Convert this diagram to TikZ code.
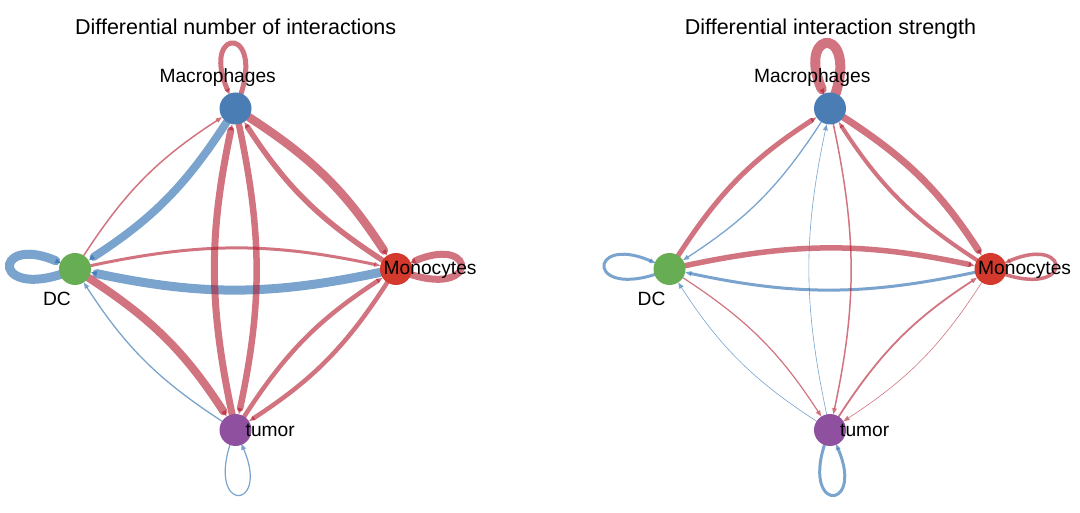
\documentclass[tikz,border=0pt]{standalone}
\usepackage{fontspec}
\setmainfont{Liberation Sans}
\usetikzlibrary{arrows.meta}
\definecolor{edgered}{HTML}{B2182B}
\definecolor{edgeblue}{HTML}{2166AC}
\definecolor{cM}{HTML}{4A7DB4}
\definecolor{cD}{HTML}{66AD53}
\definecolor{cMo}{HTML}{D3392C}
\definecolor{cT}{HTML}{8E509F}
\pgfdeclarelayer{edgelayer}
\pgfsetlayers{edgelayer,main}
\tikzset{
  cell/.style={circle, minimum size=32pt, inner sep=0pt, draw=none},
  lbl/.style={font=\fontsize{19.2}{20}\selectfont, inner sep=0pt, anchor=base},
  ttl/.style={font=\fontsize{21.5}{22}\selectfont, inner sep=0pt, anchor=base},
  tip/.style={-{Triangle[length=6pt,width=5pt,line width=0pt]}},
  e/.style={opacity=0.6, bend left=12, line cap=round, tip},
  er/.style={e, draw=edgered, line width=#1},
  eb/.style={e, draw=edgeblue, line width=#1},
  lp/.style={opacity=0.6, line cap=round, shorten >=15pt, tip},
  lr/.style={lp, draw=edgered, line width=#1},
  lb/.style={lp, draw=edgeblue, line width=#1},
}
\begin{document}
\begin{tikzpicture}[x=1pt,y=-1pt]
\useasboundingbox (0,0) rectangle (1080,513);
% ---------- left panel ----------
\node[cell, fill=cM]  (M1)  at (235.5,108.5) {};
\node[cell, fill=cD]  (D1)  at (75,269) {};
\node[cell, fill=cMo] (Mo1) at (396,269) {};
\node[cell, fill=cT]  (T1)  at (235.5,430) {};
\node[ttl] (t1) at (235.7,35) {Differential number of interactions};
\node[lbl] (lM1) at (217.7,83) {Macrophages};
\node[lbl] (lD1) at (57,306) {DC};
\node[lbl, anchor=base west] (lMo1) at (383.5,275) {Monocytes};
\node[lbl, anchor=base west] (lT1) at (245.5,436) {tumor};
\begin{pgfonlayer}{edgelayer}
\draw[lr=5pt] (M1.center) .. controls +(36,-84) and +(-36,-84) .. (M1.center);
\draw[lb=9pt] (D1.center) .. controls +(-84,36) and +(-84,-36) .. (D1.center);
\draw[lr=7pt] (Mo1.center) .. controls +(84,36) and +(84,-36) .. (Mo1.center);
\draw[lb=1.2pt] (T1.center) .. controls +(-36,84) and +(36,84) .. (T1.center);
\draw[er=1.5pt] (D1) to (M1);
\draw[eb=8pt] (M1) to (D1);
\draw[er=3pt] (D1) to (Mo1);
\draw[eb=9pt] (Mo1) to (D1);
\draw[er=8.5pt] (M1) to (Mo1);
\draw[er=5.5pt] (Mo1) to (M1);
\draw[er=6.5pt] (M1) to (T1);
\draw[er=7pt] (T1) to (M1);
\draw[er=8pt] (D1) to (T1);
\draw[eb=1.3pt] (T1) to (D1);
\draw[er=4.5pt] (Mo1) to (T1);
\draw[er=4.5pt] (T1) to (Mo1);
\end{pgfonlayer}
% ---------- right panel ----------
\node[cell, fill=cM]  (M2)  at (830,108.5) {};
\node[cell, fill=cD]  (D2)  at (669.5,269) {};
\node[cell, fill=cMo] (Mo2) at (990.5,269) {};
\node[cell, fill=cT]  (T2)  at (830,430) {};
\node[ttl] (t2) at (830.5,35) {Differential interaction strength};
\node[lbl] (lM2) at (812.2,83) {Macrophages};
\node[lbl] (lD2) at (651.5,306) {DC};
\node[lbl, anchor=base west] (lMo2) at (978,275) {Monocytes};
\node[lbl, anchor=base west] (lT2) at (840,436) {tumor};
\begin{pgfonlayer}{edgelayer}
\draw[lr=10pt] (M2.center) .. controls +(36,-84) and +(-36,-84) .. (M2.center);
\draw[lb=3pt] (D2.center) .. controls +(-84,36) and +(-84,-36) .. (D2.center);
\draw[lr=3.5pt] (Mo2.center) .. controls +(84,36) and +(84,-36) .. (Mo2.center);
\draw[lb=3pt] (T2.center) .. controls +(-36,84) and +(36,84) .. (T2.center);
\draw[er=5pt] (D2) to (M2);
\draw[eb=1.3pt] (M2) to (D2);
\draw[er=5.5pt] (D2) to (Mo2);
\draw[eb=3pt] (Mo2) to (D2);
\draw[er=7pt] (M2) to (Mo2);
\draw[er=4pt] (Mo2) to (M2);
\draw[er=1.5pt] (M2) to (T2);
\draw[eb=0.6pt] (T2) to (M2);
\draw[er=1.2pt] (D2) to (T2);
\draw[eb=0.6pt] (T2) to (D2);
\draw[er=0.6pt] (Mo2) to (T2);
\draw[er=1.8pt] (T2) to (Mo2);
\end{pgfonlayer}
\end{tikzpicture}
\end{document}
